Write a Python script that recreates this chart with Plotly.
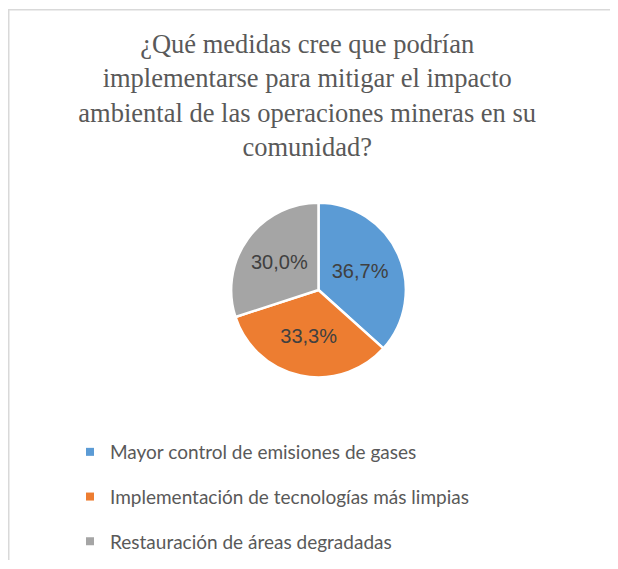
import plotly.graph_objects as go

labels = ["Mayor control de emisiones de gases",
          "Implementación de tecnologías más limpias",
          "Restauración de áreas degradadas"]
counts = [11, 10, 9]
colors = ["#5b9bd5", "#ed7d31", "#a5a5a5"]

title_text = ("¿Qué medidas cree que podrían<br>"
              "implementarse para mitigar el impacto<br>"
              "ambiental de las operaciones mineras en su<br>"
              "comunidad?")

# page body keeps its 8px margin, so the figure is sized to fit inside it
W, H = 602, 553

fig = go.Figure()

fig.add_trace(go.Pie(
    labels=labels, values=counts,
    marker=dict(colors=colors, line=dict(color="white", width=2.5)),
    sort=False, direction="clockwise", rotation=0,
    texttemplate="%{percent:.1%}", textposition="inside",
    insidetextorientation="horizontal",
    textfont=dict(family="Liberation Sans", size=20, color="#404040"),
    domain=dict(x=[222 / W, 399 / W], y=[(H - 370) / H, (H - 195) / H]),
    showlegend=False, hoverinfo="label+percent",
))

# legend entries (one per slice, same labels/colours)
for i, (lab, col) in enumerate(zip(labels, colors)):
    fig.add_trace(go.Scatter(
        x=[None], y=[None], mode="markers", name=lab,
        marker=dict(symbol="square", size=8, color=col),
        legendgroup="g%d" % i, showlegend=True,
    ))

fig.update_xaxes(visible=False)
fig.update_yaxes(visible=False)

fig.update_layout(
    width=W, height=H,
    paper_bgcolor="white", plot_bgcolor="white",
    separators=",.",
    margin=dict(l=0, r=0, t=0, b=0),
    title=dict(text=title_text, x=0.497, xanchor="center",
               y=1 - 45 / H, yanchor="top",
               font=dict(family="Liberation Serif", size=26.5, color="#595959")),
    legend=dict(x=62 / W, xanchor="left", y=1 - 426 / H, yanchor="top",
                orientation="v", tracegroupgap=17, itemsizing="trace",
                font=dict(family="Lato", size=19, color="#595959"),
                bgcolor="rgba(0,0,0,0)"),
    shapes=[dict(type="line", xref="paper", yref="paper",
                 x0=0.75 / W, x1=0.75 / W, y0=0, y1=1 - 1 / H,
                 line=dict(color="#d9d9d9", width=1.5)),
            dict(type="line", xref="paper", yref="paper",
                 x0=0, x1=1, y0=1 - 1.75 / H, y1=1 - 1.75 / H,
                 line=dict(color="#d9d9d9", width=1.5))],
)

fig.write_html("out.html")
